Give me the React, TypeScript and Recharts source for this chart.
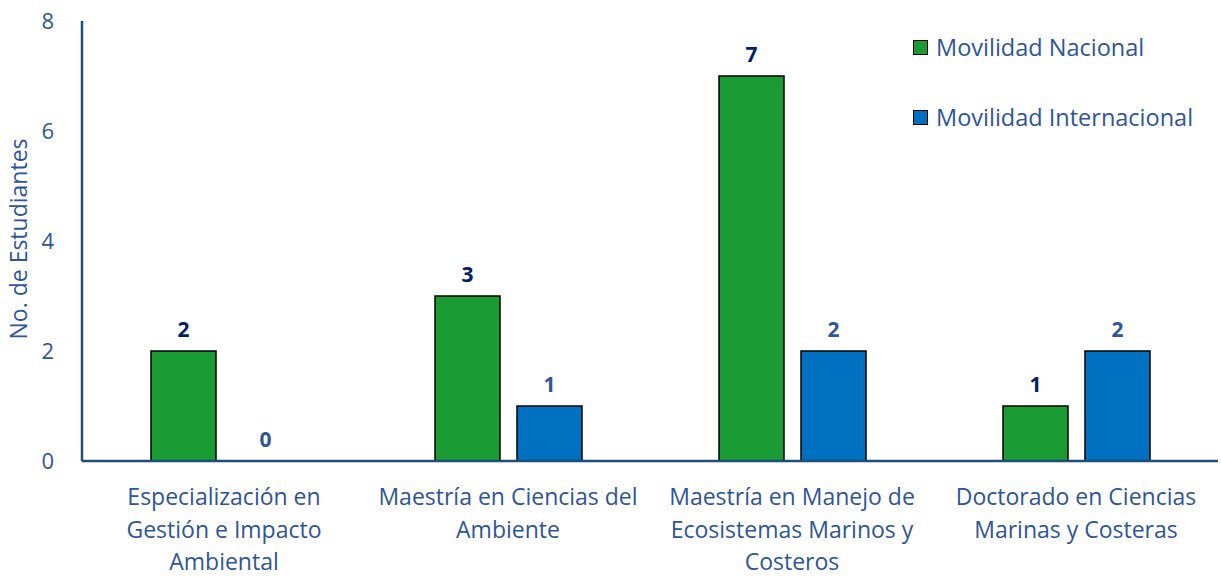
import { Bar, BarChart, LabelList, XAxis, YAxis } from "recharts";

const categories = [
  "Especialización en Gestión e Impacto Ambiental",
  "Maestría en Ciencias del Ambiente",
  "Maestría en Manejo de Ecosistemas Marinos y Costeros",
  "Doctorado en Ciencias Marinas y Costeras",
];

const tickLines = [
  ["Especialización en", "Gestión e Impacto", "Ambiental"],
  ["Maestría en Ciencias del", "Ambiente"],
  ["Maestría en Manejo de", "Ecosistemas Marinos y", "Costeros"],
  ["Doctorado en Ciencias", "Marinas y Costeras"],
];

const nacional = [2, 3, 7, 1];
const internacional = [0, 1, 2, 2];

const yTicks = [0, 2, 4, 6, 8];

const FONT = "'Open Sans', Lato, sans-serif";
const AXIS = "#1f4e79";
const TEXT = "#2f5597";
const GREEN = "#1a9b33";
const BLUE = "#0070c0";

const data = categories.map((name, i) => ({
  name,
  nacional: nacional[i],
  internacional: internacional[i],
}));

function CategoryTick({ x, y, payload }: any) {
  const lines = tickLines[payload.index] ?? [payload.value];
  return (
    <text x={x} y={y} textAnchor="middle" fill={TEXT} fontSize={23} fontFamily={FONT}>
      {lines.map((line, i) => (
        <tspan key={i} x={x} dy={i === 0 ? 36 : 32.5}>
          {line}
        </tspan>
      ))}
    </text>
  );
}

function LegendBox() {
  const items = [
    { label: "Movilidad Nacional", color: GREEN },
    { label: "Movilidad Internacional", color: BLUE },
  ];
  return (
    <div style={{ position: "absolute", left: 913, top: 12, fontFamily: FONT, fontSize: 23.5, color: TEXT }}>
      {items.map((it) => (
        <div key={it.label} style={{ display: "flex", alignItems: "center", height: 70 }}>
          <span
            style={{
              display: "inline-block",
              width: 13,
              height: 13,
              background: it.color,
              border: "1.5px solid #000",
              marginRight: 8,
            }}
          />
          {it.label}
        </div>
      ))}
    </div>
  );
}

export default function App() {
  return (
    <div style={{ position: "absolute", top: 0, left: 0, width: 1221, height: 577, background: "#fff" }}>
      <BarChart
        width={1221}
        height={577}
        data={data}
        margin={{ top: 21, right: 3, left: 0, bottom: 0 }}
        barSize={65}
        barGap={17}
      >
        <XAxis
          dataKey="name"
          height={116}
          interval={0}
          tick={<CategoryTick />}
          tickLine={false}
          axisLine={{ stroke: AXIS, strokeWidth: 2.5 }}
        />
        <YAxis
          width={82}
          domain={[0, 8]}
          ticks={yTicks}
          tickLine={false}
          axisLine={{ stroke: AXIS, strokeWidth: 2.5 }}
          tick={{ fill: TEXT, fontSize: 22, fontFamily: FONT }}
          tickMargin={22}
          label={{
            value: "No. de Estudiantes",
            angle: -90,
            position: "insideLeft",
            dx: 14,
            dy: -2,
            style: { fill: TEXT, fontSize: 23, fontFamily: FONT, textAnchor: "middle" },
          }}
        />
        <Bar dataKey="nacional" fill={GREEN} stroke="#000" strokeWidth={1.5} isAnimationActive={false}>
          <LabelList
            dataKey="nacional"
            position="top"
            offset={14}
            style={{ fill: "#002060", fontSize: 21, fontWeight: 700, fontFamily: FONT }}
          />
        </Bar>
        <Bar
          dataKey="internacional"
          fill={BLUE}
          stroke="#000"
          strokeWidth={1.5}
          minPointSize={(v: number) => (v === 0 ? 0.01 : 0)}
          isAnimationActive={false}
        >
          <LabelList
            dataKey="internacional"
            position="top"
            offset={14}
            style={{ fill: TEXT, fontSize: 21, fontWeight: 700, fontFamily: FONT }}
          />
        </Bar>
      </BarChart>
      <LegendBox />
    </div>
  );
}
